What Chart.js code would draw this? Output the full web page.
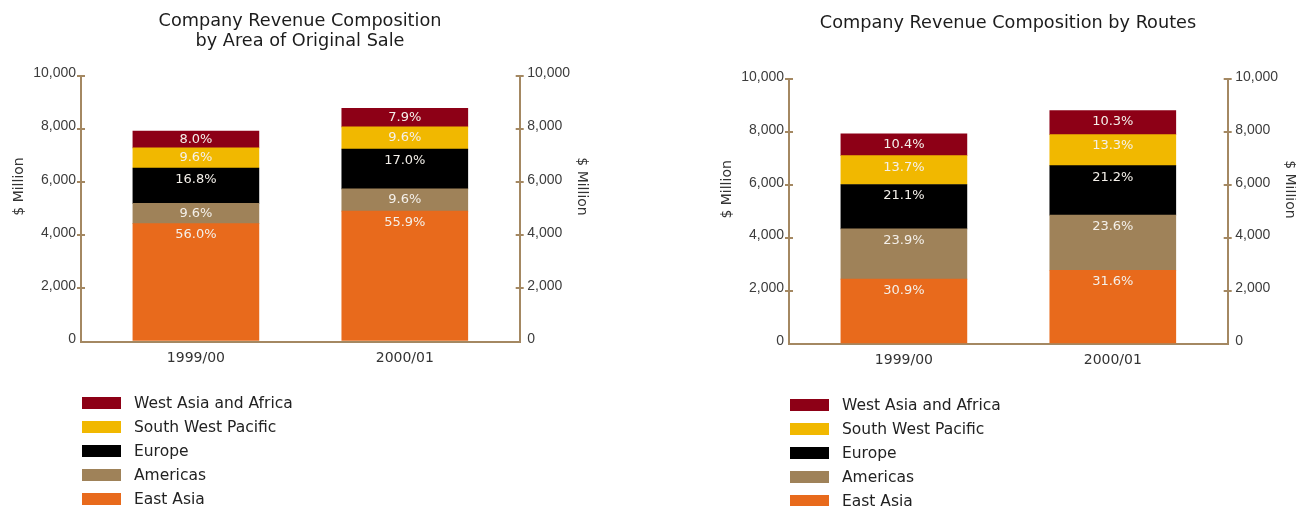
<!DOCTYPE html>
<html>
<head>
<meta charset="utf-8">
<script src="https://cdn.jsdelivr.net/npm/chart.js@4.4.1/dist/chart.umd.min.js"></script>
<style>
  html, body { margin: 0; padding: 0; background: #fff; width: 1296px; height: 506px; overflow: hidden; }
  .panel { position: absolute; width: 600px; height: 506px; }
  .panel canvas { position: absolute; left: 0; top: 0; }
  .legend { position: absolute; left: 82px; top: 390.7px; margin: 0; padding: 0; list-style: none;
            font-family: 'DejaVu Sans', sans-serif; font-size: 15.5px; color: #222; }
  .legend li { display: flex; align-items: center; height: 24px; white-space: nowrap; }
  .legend .swatch { width: 39px; height: 12px; margin-right: 13px; flex: none; }
</style>
</head>
<body>
<div class="panel" style="left:0;top:0">
  <canvas id="saleChart" width="600" height="506"></canvas>
  <ul class="legend" id="saleLegend"></ul>
</div>
<div class="panel" style="left:708px;top:2.7px">
  <canvas id="routeChart" width="600" height="506"></canvas>
  <ul class="legend" id="routeLegend"></ul>
</div>
<script>
// Financial years shown on the category axis
const periods = ['1999/00', '2000/01'];
// Regions, stacked from the bottom up
const regionNames = ['East Asia', 'Americas', 'Europe', 'South West Pacific', 'West Asia and Africa'];
const regionColors = ['#e86a1c', '#9f8259', '#000000', '#f1b800', '#8d0016'];
// Value axis ticks, $ million
const valueTicks = [0, 2000, 4000, 6000, 8000, 10000];

// Company revenue by area of original sale: totals ($ million) and shares (%)
const saleTotals = [7930, 8780];
const saleEastAsia = [56.0, 55.9];
const saleAmericas = [9.6, 9.6];
const saleEurope = [16.8, 17.0];
const saleSouthWestPacific = [9.6, 9.6];
const saleWestAsiaAfrica = [8.0, 7.9];

// Company revenue by routes: totals ($ million) and shares (%)
const routeTotals = [7940, 8820];
const routeEastAsia = [30.9, 31.6];
const routeAmericas = [23.9, 23.6];
const routeEurope = [21.1, 21.2];
const routeSouthWestPacific = [13.7, 13.3];
const routeWestAsiaAfrica = [10.4, 10.3];

const AXIS_TAN = '#a48862';

// Writes each segment's share inside its bar
const shareLabels = {
  id: 'shareLabels',
  afterDatasetsDraw(chart) {
    const ctx = chart.ctx;
    ctx.save();
    ctx.font = '13px "DejaVu Sans", sans-serif';
    ctx.fillStyle = '#f4f0ea';
    ctx.textAlign = 'center';
    ctx.textBaseline = 'middle';
    chart.data.datasets.forEach((ds, i) => {
      chart.getDatasetMeta(i).data.forEach((bar, k) => {
        const { x, y, base } = bar.getProps(['x', 'y', 'base'], true);
        const top = Math.min(y, base), bottom = Math.max(y, base);
        const cy = Math.min(top + 11.5, (top + bottom) / 2);
        ctx.fillText(ds.data[k].share.toFixed(1) + '%', x, cy);
      });
    });
    ctx.restore();
  }
};

// Extends each value-axis tick mark a few pixels inside the plot so it crosses the axis line
const crossTicks = {
  id: 'crossTicks',
  afterDraw(chart) {
    const ctx = chart.ctx;
    ctx.save();
    ctx.strokeStyle = AXIS_TAN;
    ctx.lineWidth = 2;
    ['y', 'y2'].forEach(id => {
      const scale = chart.scales[id];
      const edge = scale.position === 'left' ? chart.chartArea.left : chart.chartArea.right;
      const dir = scale.position === 'left' ? 1 : -1;
      scale.ticks.forEach(t => {
        if (t.value === 0) return;
        const py = Math.round(scale.getPixelForValue(t.value));
        ctx.beginPath();
        ctx.moveTo(edge, py);
        ctx.lineTo(edge + dir * 4, py);
        ctx.stroke();
      });
    });
    ctx.restore();
  }
};

function valueAxis(position, labelPad, titleText, titlePad, width) {
  return {
    type: 'linear',
    position,
    stacked: position === 'left',
    min: 0,
    max: 10000,
    bounds: 'data',
    afterBuildTicks: s => { s.ticks = valueTicks.map(v => ({ value: v })); },
    ticks: {
      callback: v => v.toLocaleString('en-US'),
      font: { family: 'Liberation Sans', size: 14 },
      color: '#3c3c3c',
      padding: labelPad,
      labelOffset: -2.5
    },
    grid: {
      drawOnChartArea: false,
      drawTicks: true,
      tickLength: 4,
      lineWidth: 2,
      color: c => (c.tick && c.tick.value === 0) ? 'rgba(0,0,0,0)' : AXIS_TAN
    },
    border: { display: true, color: AXIS_TAN, width: 2 },
    title: {
      display: true,
      text: titleText,
      font: { family: 'DejaVu Sans', size: 14 },
      color: '#333',
      padding: { top: titlePad, bottom: 0 }
    },
    afterFit: s => { s.width = width; }
  };
}

function buildChart(canvasId, legendId, title, titlePadding, xAxisHeight, totals, shares) {
  const datasets = regionNames.map((name, i) => ({
    label: name,
    data: shares[i].map((p, k) => ({ x: k, y: totals[k] * p / 100, share: p })),
    backgroundColor: regionColors[i],
    borderWidth: 0,
    barThickness: 126
  }));

  const chart = new Chart(document.getElementById(canvasId), {
    type: 'bar',
    data: { datasets },
    options: {
      responsive: false,
      animation: false,
      layout: { padding: 0 },
      plugins: {
        legend: { display: false },
        tooltip: { enabled: false },
        title: {
          display: true,
          text: title,
          color: '#1c1c1c',
          font: { family: 'DejaVu Sans', size: 17.7, weight: 'normal', lineHeight: 20 / 17.7 },
          padding: titlePadding
        }
      },
      scales: {
        x: {
          type: 'linear',
          stacked: true,
          offset: false,
          min: -0.55,
          max: 1.55,
          bounds: 'data',
          afterBuildTicks: s => { s.ticks = periods.map((p, k) => ({ value: k })); },
          ticks: {
            callback: v => periods[Math.round(v)],
            font: { family: 'DejaVu Sans', size: 14 },
            color: '#333',
            padding: 8,
            autoSkip: false,
            maxRotation: 0
          },
          grid: { display: false, drawTicks: false, offset: false },
          border: { display: true, color: AXIS_TAN, width: 2 },
          afterFit: s => { s.height = xAxisHeight; }
        },
        y: valueAxis('left', 1, '          $ Million', 10.6, 81),
        y2: valueAxis('right', 3.5, '$ Million          ', 9.6, 80.3)
      }
    },
    plugins: [shareLabels, crossTicks]
  });

  // Legend listed top segment first
  const legend = document.getElementById(legendId);
  chart.options.plugins.legend.labels.generateLabels(chart).reverse().forEach(item => {
    const li = document.createElement('li');
    const sw = document.createElement('span');
    sw.className = 'swatch';
    sw.style.background = item.fillStyle;
    const txt = document.createElement('span');
    txt.textContent = item.text;
    li.appendChild(sw);
    li.appendChild(txt);
    legend.appendChild(li);
  });
  return chart;
}

buildChart('saleChart', 'saleLegend',
  ['Company Revenue Composition', 'by Area of Original Sale'],
  { top: 11.7, bottom: 24.3 }, 164.5, saleTotals,
  [saleEastAsia, saleAmericas, saleEurope, saleSouthWestPacific, saleWestAsiaAfrica]);

buildChart('routeChart', 'routeLegend',
  'Company Revenue Composition by Routes',
  { top: 10, bottom: 46.3 }, 165, routeTotals,
  [routeEastAsia, routeAmericas, routeEurope, routeSouthWestPacific, routeWestAsiaAfrica]);
</script>
</body>
</html>
